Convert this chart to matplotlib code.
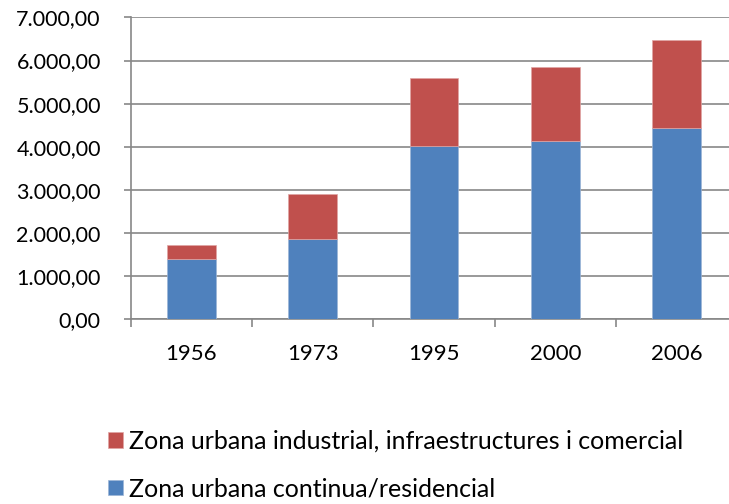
import matplotlib
matplotlib.use("Agg")
import matplotlib.pyplot as plt
from matplotlib.ticker import FuncFormatter, FixedLocator
import numpy as np

years = ["1956", "1973", "1995", "2000", "2006"]
residencial = [1400, 1860, 4010, 4125, 4430]
industrial = [320, 1040, 1580, 1725, 2040]

label_ind = "Zona urbana industrial, infraestructures i comercial"
label_res = "Zona urbana continua/residencial"

plt.rcParams['font.family'] = ['Lato', 'DejaVu Sans']

fig = plt.figure(figsize=(7.29, 5.04), dpi=100)
ax = fig.add_axes([0.1793, 0.3665, 0.8207, 0.599])

x = np.arange(len(years))
b1 = ax.bar(x, residencial, width=0.40, color="#4F81BD", edgecolor="#9DB5D6", linewidth=0.5, zorder=3)
b2 = ax.bar(x, industrial, bottom=residencial, width=0.40, color="#C0504D", edgecolor="#E0A5A4", linewidth=0.5, zorder=3)

gray = "#878787"
ax.set_ylim(0, 7000)
ax.set_xlim(-0.5, 4.432)
ax.set_yticks(np.arange(0, 7001, 1000))
ax.yaxis.set_major_formatter(FuncFormatter(lambda v, p: f"{v:,.2f}".replace(",", "X").replace(".", ",").replace("X", ".")))
ax.grid(axis="y", color=gray, linewidth=1.2, zorder=0)
ax.set_axisbelow(True)

ax.set_xticks(x)
ax.set_xticklabels(years)
ax.xaxis.set_minor_locator(FixedLocator(np.arange(-0.5, 4.0, 1.0)))
ax.tick_params(axis="x", which="major", length=0, pad=18, labelsize=16, colors="black")
ax.tick_params(axis="x", which="minor", length=5.8, width=1.2, color=gray, direction="out")
ax.tick_params(axis="y", length=5, width=1.2, color=gray, direction="out", pad=16.5, labelsize=15.5)

for s in ["top", "right"]:
    ax.spines[s].set_visible(False)
for s in ["left", "bottom"]:
    ax.spines[s].set_color(gray)
    ax.spines[s].set_linewidth(1.2)

leg = fig.legend([b2, b1], [label_ind, label_res], loc="upper left",
                 bbox_to_anchor=(0.1486, 0.147), bbox_transform=fig.transFigure,
                 frameon=False, fontsize=18, handlelength=0.57, handleheight=0.57,
                 handletextpad=0.26, labelspacing=0.98, borderaxespad=0, borderpad=0)

fig.savefig("out.png", dpi=100)
